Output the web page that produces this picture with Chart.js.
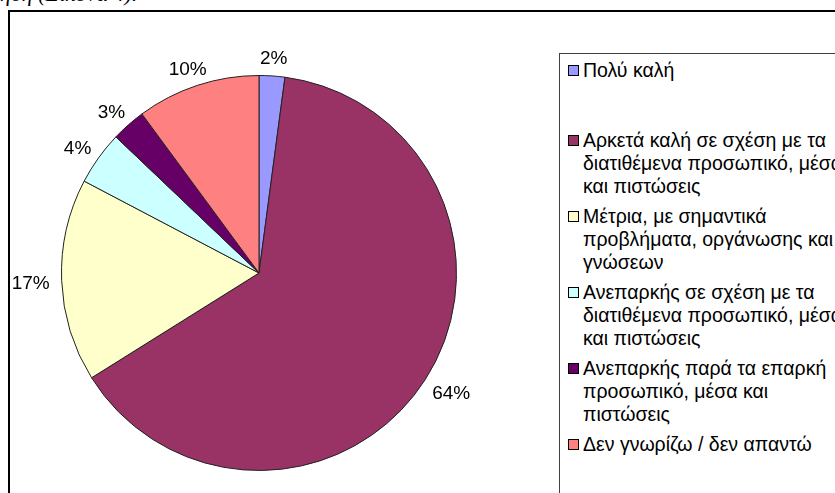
<!DOCTYPE html>
<html lang="el">
<head>
<meta charset="utf-8">
<script src="https://cdn.jsdelivr.net/npm/chart.js@4.4.1/dist/chart.umd.min.js"></script>
<style>
    body {
        margin: 0;
        width: 835px;
        height: 493px;
        overflow: hidden;
        background: #fff;
        position: relative;
        font-family: "Liberation Sans", Arial, sans-serif;
    }
    #caption {
        position: absolute;
        left: 0;
        top: -19px;
        font: italic 22px "Liberation Serif", "Times New Roman", serif;
        white-space: nowrap;
    }
    #frame {
        position: absolute;
        left: 8px;
        top: 10px;
        width: 900px;
        height: 600px;
        border: 2px solid #000;
    }
    #chart {
        position: absolute;
        left: 9px;
        top: 23px;
    }
    #legend {
        position: absolute;
        left: 559px;
        top: 53px;
        width: 400px;
        height: 600px;
        border: 1px solid #404040;
        box-sizing: border-box;
        padding: 5px 0 0 8px;
        font-size: 19.5px;
        line-height: 23px;
        color: #000;
    }
    .item {
        position: relative;
        padding-left: 15px;
        margin-bottom: 7px;
        white-space: pre-line;
    }
    .item:first-child { height: 63px; }
    .swatch {
        position: absolute;
        left: 0;
        top: 6px;
        width: 9px;
        height: 9px;
        border: 1px solid #000;
    }
</style>
</head>
<body>
<div id="caption">ήση (Εικόνα 4).</div>
<div id="frame"></div>
<canvas id="chart" width="500" height="500"></canvas>
<div id="legend"></div>

<script>
// Κατηγορίες απαντήσεων (με αλλαγές γραμμής όπως στο υπόμνημα)
const categories = [
    'Πολύ καλή',
    'Αρκετά καλή σε σχέση με τα\nδιατιθέμενα προσωπικό, μέσα\nκαι πιστώσεις',
    'Μέτρια, με σημαντικά\nπροβλήματα, οργάνωσης και\nγνώσεων',
    'Ανεπαρκής σε σχέση με τα\nδιατιθέμενα προσωπικό, μέσα\nκαι πιστώσεις',
    'Ανεπαρκής παρά τα επαρκή\nπροσωπικό, μέσα και\nπιστώσεις',
    'Δεν γνωρίζω / δεν απαντώ'
];
const percentages = [2.1, 64.0, 16.6, 4.4, 2.8, 10.1];
const sliceColors = ['#9999ff', '#993366', '#ffffcc', '#ccffff', '#660066', '#ff8080'];

// Υπόμνημα σε HTML για να γίνεται αναδίπλωση κειμένου
const legend = document.getElementById('legend');
categories.forEach((cat, i) => {
    const div = document.createElement('div');
    div.className = 'item';
    div.innerHTML = `<span class="swatch" style="background:${sliceColors[i]}"></span>`;
    div.appendChild(document.createTextNode(cat));
    legend.appendChild(div);
});

// Ετικέτες ποσοστών έξω από την πίτα
const percentLabels = {
    id: 'percentLabels',
    afterDatasetsDraw(chart) {
        const ctx = chart.ctx;
        const meta = chart.getDatasetMeta(0);
        const values = chart.data.datasets[0].data;
        const total = values.reduce((a, b) => a + b, 0);
        ctx.save();
        ctx.font = '19px "Liberation Sans", Arial, sans-serif';
        ctx.fillStyle = '#000';
        ctx.textAlign = 'center';
        ctx.textBaseline = 'middle';
        meta.data.forEach((arc, i) => {
            const p = arc.getProps(['x', 'y', 'startAngle', 'endAngle', 'outerRadius'], true);
            const mid = (p.startAngle + p.endAngle) / 2;
            const text = Math.round(values[i] / total * 100) + '%';
            const w = ctx.measureText(text).width;
            const r = p.outerRadius + 12;
            const cx = p.x + Math.cos(mid) * r + Math.cos(mid) * w / 2;
            const cy = p.y + Math.sin(mid) * r + Math.sin(mid) * 8 + 3;
            ctx.fillText(text, cx, cy);
        });
        ctx.restore();
    }
};

new Chart(document.getElementById('chart'), {
    type: 'pie',
    data: {
        labels: categories,
        datasets: [{
            data: percentages,
            backgroundColor: sliceColors,
            borderColor: '#222',
            borderWidth: 1
        }]
    },
    options: {
        responsive: false,
        animation: false,
        layout: { padding: 52 },
        plugins: {
            legend: { display: false },
            tooltip: { enabled: false }
        }
    },
    plugins: [percentLabels]
});
</script>
</body>
</html>
